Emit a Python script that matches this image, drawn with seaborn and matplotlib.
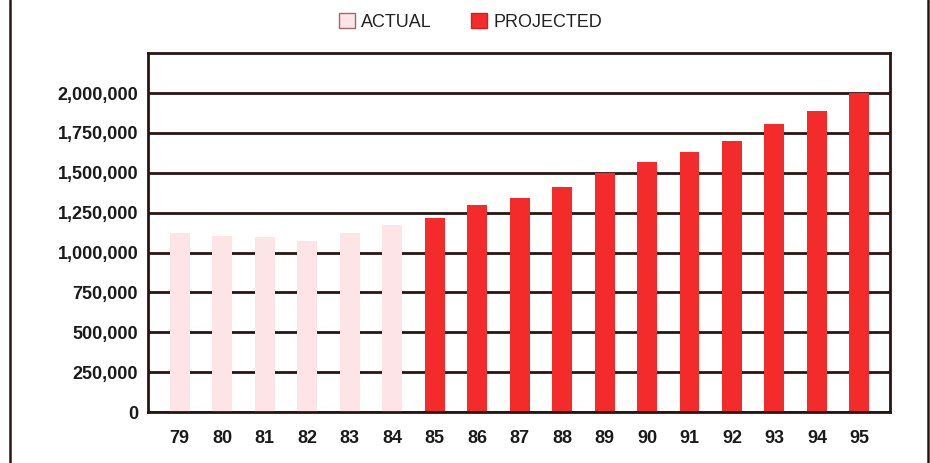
import matplotlib
matplotlib.use('Agg')
import matplotlib.pyplot as plt
import seaborn as sns
import pandas as pd
from matplotlib.patches import Patch
from matplotlib.lines import Line2D
from matplotlib.ticker import FuncFormatter

# data
years = ['79', '80', '81', '82', '83', '84', '85', '86', '87', '88',
         '89', '90', '91', '92', '93', '94', '95']
values = [1125000, 1105000, 1095000, 1070000, 1125000, 1170000, 1215000,
          1300000, 1340000, 1410000, 1500000, 1565000, 1630000, 1700000,
          1805000, 1885000, 2000000]
status = ['ACTUAL'] * 6 + ['PROJECTED'] * 11

colors = {'ACTUAL': '#fde4e6', 'PROJECTED': '#f32b2b'}
ink = '#2a1512'

df = pd.DataFrame({'year': years, 'value': values, 'status': status})

sns.set_style('white')
plt.rcParams['font.family'] = ['Liberation Sans', 'DejaVu Sans']

fig = plt.figure(figsize=(9.3, 4.63), dpi=100)
ax = fig.add_axes([0.159, 0.110, 0.798, 0.775])

sns.barplot(data=df, x='year', y='value', hue='status', palette=colors,
            dodge=False, width=0.47, legend=False, ax=ax, saturation=1,
            linewidth=0)

ax.set_axisbelow(True)
ax.set_yticks(range(0, 2000001, 250000))
ax.yaxis.grid(True, color=ink, linewidth=2)
ax.set_ylim(0, 2250000)
ax.set_xlim(-0.75, 16.72)
ax.yaxis.set_major_formatter(FuncFormatter(lambda v, p: f'{int(v):,}'))
ax.tick_params(axis='both', length=0, labelsize=13)
ax.tick_params(axis='y', pad=7)
ax.tick_params(axis='x', pad=13)
for lab in ax.get_xticklabels() + ax.get_yticklabels():
    lab.set_fontweight('bold')
    lab.set_color('#1a1a1a')
for sp in ax.spines.values():
    sp.set_color(ink)
    sp.set_linewidth(2)
ax.set_xlabel('')
ax.set_ylabel('')

handles = [Patch(facecolor=colors['ACTUAL'], edgecolor='#9a6a70', linewidth=1, label='ACTUAL'),
           Patch(facecolor=colors['PROJECTED'], edgecolor='#d02020', linewidth=1, label='PROJECTED')]
fig.legend(handles=handles, loc='center', bbox_to_anchor=(0.506, 0.952), ncol=2,
           frameon=False, fontsize=13, handlelength=0.85, handleheight=0.85,
           handletextpad=0.35, columnspacing=2.2, labelcolor='#222222')

# page border lines of the scanned figure
fig.add_artist(Line2D([0.011, 0.011], [0, 1], color=ink, linewidth=1.8, transform=fig.transFigure))
fig.add_artist(Line2D([0.998, 0.998], [0, 1], color=ink, linewidth=1.8, transform=fig.transFigure))

fig.savefig('out.png', dpi=100, facecolor='white')
